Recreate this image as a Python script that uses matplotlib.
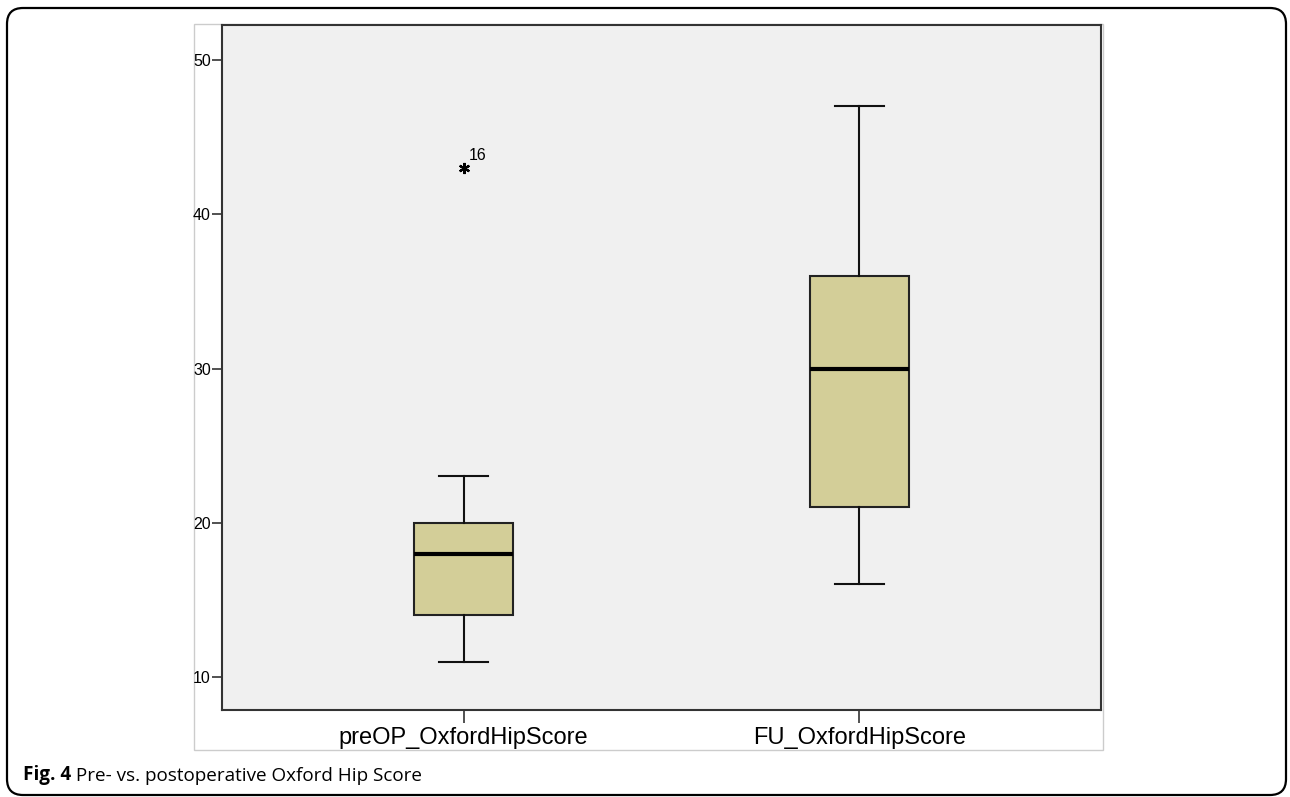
import matplotlib.pyplot as plt
from matplotlib.patches import FancyBboxPatch, Rectangle

# box plot summary
labels = ['preOP_OxfordHipScore', 'FU_OxfordHipScore']
whislo = [11, 16]
q1 = [14, 21]
med = [18, 30]
q3 = [20, 36]
whishi = [23, 47]
fliers = [[43], []]
flier_ids = [['16'], []]

fig = plt.figure(figsize=(12.9, 7.97), dpi=100)
fig.patch.set_facecolor('white')

# rounded frame around the whole figure panel (pixel coords)
frame = FancyBboxPatch((7, 2), 1279, 787, boxstyle='round,pad=0,rounding_size=16',
                       transform=None, facecolor='none', edgecolor='black', linewidth=1.6)
fig.add_artist(frame)

# light border of the embedded chart image
img_border = Rectangle((194, 797 - 750), 909, 726, transform=None,
                       facecolor='white', edgecolor='#cccccc', linewidth=1, zorder=0)
fig.add_artist(img_border)

ax = fig.add_axes([222 / 1290, 87 / 797, 879 / 1290, 685 / 797])
ax.set_facecolor('#f0f0f0')

stats = []
for i in range(len(labels)):
    stats.append({'label': labels[i], 'whislo': whislo[i], 'q1': q1[i], 'med': med[i],
                  'q3': q3[i], 'whishi': whishi[i], 'fliers': fliers[i]})

ax.bxp(stats, positions=[1, 2], widths=0.25, patch_artist=True, showfliers=False,
       boxprops=dict(facecolor='#d3ce98', edgecolor='#222222', linewidth=1.5),
       medianprops=dict(color='black', linewidth=3),
       whiskerprops=dict(color='#111111', linewidth=1.5),
       capprops=dict(color='#111111', linewidth=1.5),
       capwidths=0.125)

for i in range(len(labels)):
    for v, name in zip(fliers[i], flier_ids[i]):
        ax.plot(i + 1, v, marker=(6, 2, 0), color='black', markersize=8,
                markeredgewidth=1.6, linestyle='none')
        ax.annotate(name, (i + 1, v), xytext=(4, 6), textcoords='offset points',
                    fontsize=11.5, family='Liberation Sans')

ax.set_xlim(0.39, 2.61)
ax.set_ylim(7.86, 52.27)
ax.set_yticks([10, 20, 30, 40, 50])
ax.set_xticks([1, 2])
ax.set_xticklabels(labels)

for s in ax.spines.values():
    s.set_color('#333333')
    s.set_linewidth(1.5)

ax.tick_params(axis='y', length=7, width=1.2, pad=1, labelsize=11.5, color='#333333')
ax.tick_params(axis='x', length=9, width=1.2, pad=3, labelsize=17, color='#333333')
for t in ax.get_xticklabels() + ax.get_yticklabels():
    t.set_family('Liberation Sans')

# caption
t1 = fig.text(23 / 1290, 17 / 797, 'Fig. 4', fontsize=13.6, fontweight='bold',
              family='Open Sans', va='baseline')
ax.annotate(' Pre- vs. postoperative Oxford Hip Score', xy=(1, 0), xycoords=t1,
            fontsize=13.6, family='Open Sans', va='bottom', annotation_clip=False)

fig.savefig('out.png', dpi=100)
